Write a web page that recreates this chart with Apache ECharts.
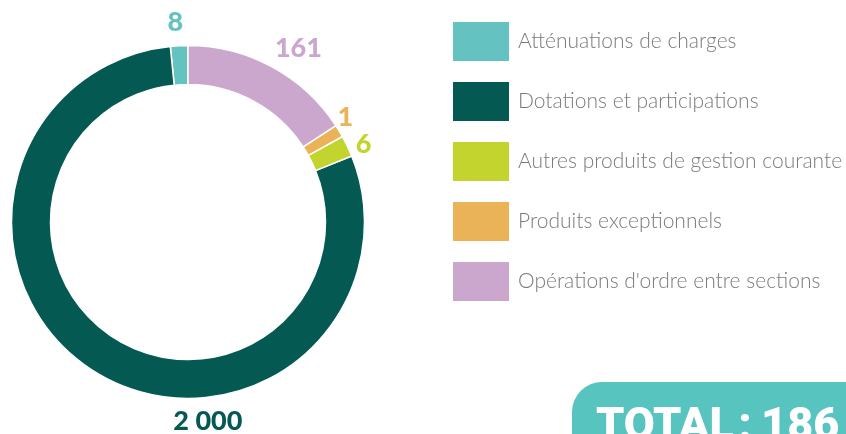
<!DOCTYPE html>
<html>
<head>
<meta charset="utf-8">
<script src="https://cdn.jsdelivr.net/npm/echarts@6/dist/echarts.min.js"></script>
<style>
html,body{margin:0;padding:0;background:#fff;}
#chart{width:846px;height:434px;}
</style>
</head>
<body>
<div id="chart"></div>
<script>
// ---- data ----
const categories = [
  "Atténuations de charges",
  "Dotations et participations",
  "Autres produits de gestion courante",
  "Produits exceptionnels",
  "Opérations d'ordre entre sections"
];
// values printed on the chart
const valueLabels = ["8", "2 000", "6", "1", "161"];
// arc shares (%) as drawn in the reference ring
const arcShares = [1.6, 79.5, 1.95, 1.15, 15.8];
const totalText = "TOTAL\u200A:\u2009186";

// ---- styling / layout ----
const colors = ["#64C3C1", "#045A53", "#C2D42D", "#EBB357", "#CBA7CE"];
const cx = 188, cy = 222;
// label placement (angle clockwise from 12 o'clock, distance from centre)
const labelPolar = [[-3.6, 200], [174.3, 200], [66.2, 192], [56.4, 189], [32.4, 206]];

const chart = echarts.init(document.getElementById('chart'), null, {renderer: 'canvas'});
chart.setOption({
  animation: false,
  backgroundColor: '#ffffff',
  legend: {
    orient: 'vertical',
    left: 451,
    top: 20,
    padding: 0,
    itemWidth: 58,
    itemHeight: 41,
    itemGap: 17,
    icon: 'rect',
    selectedMode: false,
    data: categories,
    textStyle: {
      color: '#7b7b7b',
      fontFamily: 'Lato',
      fontWeight: 300,
      fontSize: 21,
      padding: [0, 0, 0, 3]
    }
  },
  series: [{
    type: 'pie',
    center: [cx, cy],
    radius: [137.5, 176.5],
    startAngle: 90,
    clockwise: false,
    avoidLabelOverlap: false,
    itemStyle: {borderColor: '#ffffff', borderWidth: 1.5},
    label: {
      show: true,
      position: 'outside',
      fontFamily: 'Lato',
      fontWeight: 900,
      fontSize: 27,
      formatter: p => valueLabels[p.dataIndex]
    },
    labelLine: {show: false},
    labelLayout: function (p) {
      const lp = labelPolar[p.dataIndex];
      const a = lp[0] * Math.PI / 180;
      return {
        x: cx + lp[1] * Math.sin(a),
        y: cy - lp[1] * Math.cos(a),
        align: 'center',
        verticalAlign: 'middle'
      };
    },
    emphasis: {disabled: true},
    data: categories.map((c, i) => ({
      name: c,
      value: arcShares[i],
      itemStyle: {color: colors[i]},
      label: {color: colors[i]}
    }))
  }],
  graphic: [
    {
      type: 'rect',
      shape: {x: 572, y: 382, width: 320, height: 120, r: 30},
      style: {fill: '#58C4BF'}
    },
    {
      type: 'text',
      x: 596, y: 405,
      style: {
        text: totalText,
        fill: '#ffffff',
        font: '900 45px Roboto',
        textVerticalAlign: 'top'
      }
    }
  ]
});
</script>
</body>
</html>
